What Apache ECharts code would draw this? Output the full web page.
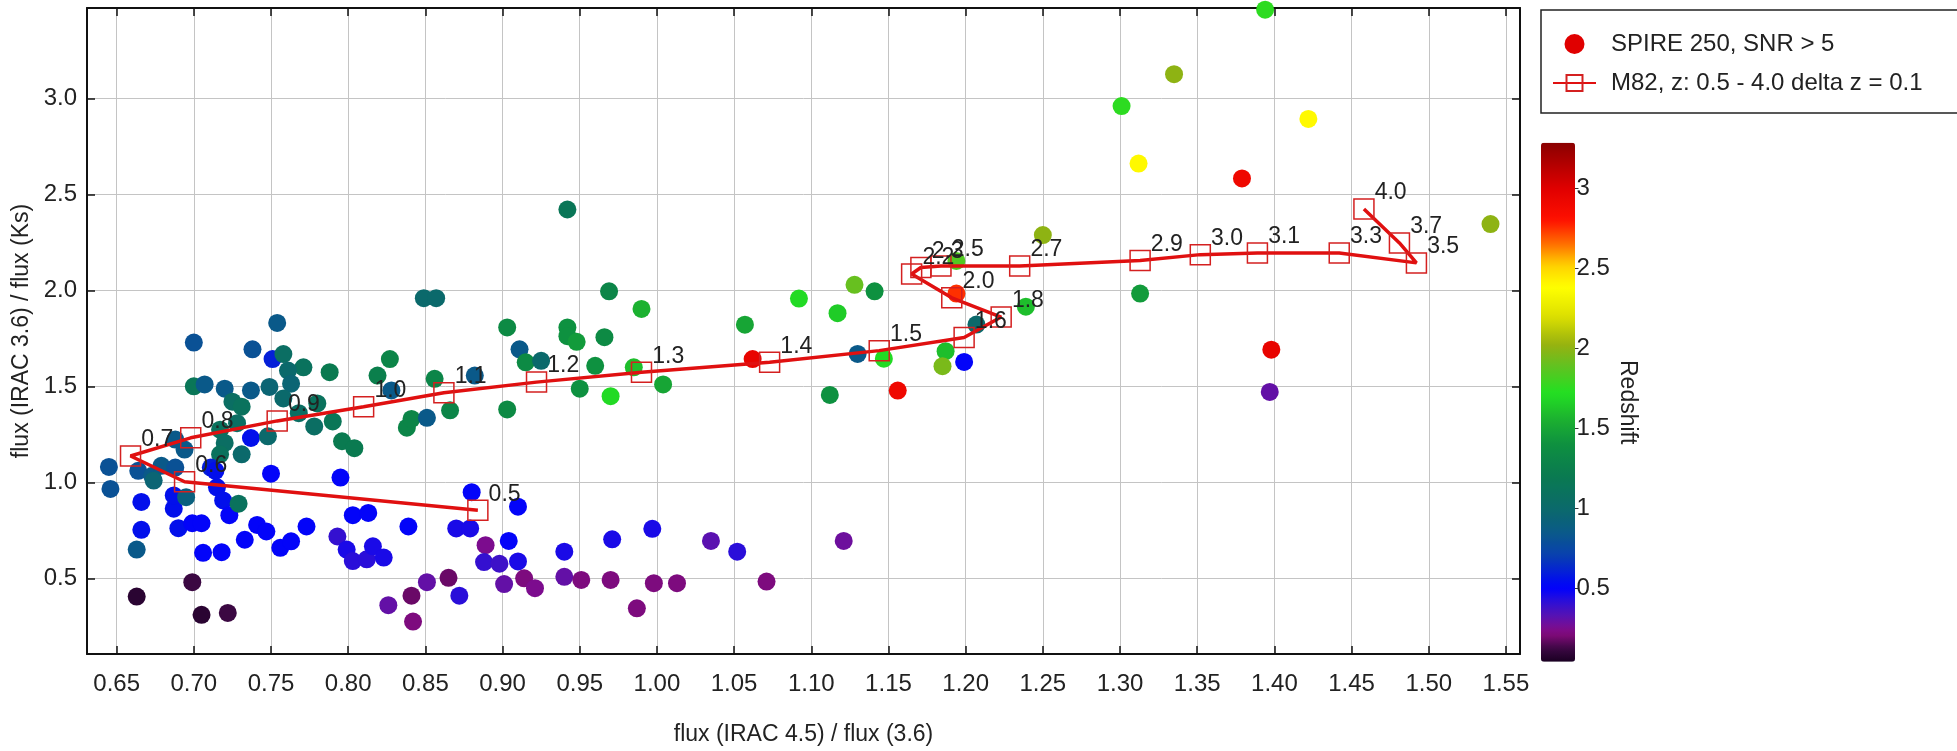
<!DOCTYPE html>
<html><head><meta charset="utf-8">
<script src="https://cdn.jsdelivr.net/npm/echarts@6/dist/echarts.min.js"></script>
<style>html,body{margin:0;padding:0;background:#fff}#c{width:1957px;height:751px}</style>
</head><body><div id="c"></div>
<script>
// ---- SPIRE 250 sources: x = flux(IRAC4.5)/flux(3.6), y = flux(IRAC3.6)/flux(Ks), z = redshift
const srcX = [0.849,0.857,0.754,0.700,0.738,0.751,0.758,0.771,0.761,0.788,0.827,0.819,0.700,0.707,0.720,0.737,0.749,0.763,0.725,0.731,
0.758,0.780,0.790,0.778,0.828,0.838,0.841,0.851,0.856,0.866,0.796,0.804,0.737,0.717,0.720,0.731,0.748,0.717,0.750,0.795,
0.645,0.688,0.694,0.664,0.673,0.679,0.688,0.711,0.768,0.728,0.646,0.674,0.666,0.687,0.687,0.695,0.715,0.719,0.723,0.729,
0.714,0.666,0.663,0.690,0.699,0.705,0.706,0.718,0.733,0.741,0.747,0.756,0.763,0.773,0.803,0.813,0.793,0.799,0.803,0.812,
0.816,0.823,0.839,0.699,0.663,0.705,0.722,0.826,0.841,0.842,0.851,0.865,0.880,0.910,0.870,0.879,0.889,0.904,0.888,0.898,
0.910,0.872,0.901,0.914,0.921,0.940,0.940,0.951,0.971,0.970,0.987,0.997,0.998,1.013,1.035,1.052,1.071,1.121,0.942,0.969,
0.990,0.903,0.942,0.942,0.948,0.966,0.911,0.915,0.925,0.960,0.882,0.950,0.970,1.004,0.985,0.903,1.057,1.092,1.062,1.112,
1.128,1.141,1.117,1.130,1.147,1.156,1.187,1.185,1.199,1.207,1.194,1.239,1.250,1.194,1.313,1.394,1.335,1.422,1.379,1.540,
1.312,1.301,1.398,1.397];
const srcY = [1.959,1.959,1.830,1.728,1.693,1.642,1.668,1.599,1.582,1.574,1.642,1.556,1.500,1.510,1.488,1.479,1.497,1.514,1.420,1.394,
1.437,1.411,1.317,1.291,1.479,1.285,1.330,1.336,1.539,1.375,1.214,1.178,1.231,1.274,1.205,1.146,1.240,1.146,1.045,1.025,
1.080,1.223,1.171,1.060,1.034,1.086,1.077,1.077,1.360,1.308,0.966,1.009,0.898,0.863,0.932,0.923,0.974,0.906,0.829,0.889,
1.060,0.753,0.650,0.761,0.787,0.787,0.633,0.636,0.701,0.778,0.744,0.659,0.693,0.770,0.829,0.841,0.718,0.650,0.590,0.599,
0.667,0.608,0.770,0.480,0.405,0.310,0.320,0.360,0.410,0.275,0.480,0.503,0.949,0.873,0.760,0.760,0.673,0.695,0.585,0.576,
0.588,0.410,0.470,0.500,0.449,0.639,0.508,0.492,0.703,0.492,0.344,0.758,0.475,0.475,0.695,0.639,0.483,0.695,2.421,1.995,
1.903,1.807,1.807,1.761,1.732,1.756,1.693,1.625,1.633,1.607,1.556,1.488,1.449,1.510,1.599,1.380,1.821,1.957,1.642,1.455,
2.029,1.995,1.881,1.669,1.644,1.478,1.683,1.605,1.627,1.822,1.983,1.915,2.288,2.153,1.983,3.462,3.126,2.893,2.583,2.345,
2.660,2.960,1.691,1.471];
const srcZ = [1.0,1.0,0.85,0.8,0.8,0.6,1.05,1.1,1.0,1.2,1.3,1.25,1.15,0.85,0.85,0.85,0.95,0.95,1.05,1.1,
1.0,1.1,1.15,1.05,0.85,1.3,1.3,0.85,1.3,1.3,1.2,1.2,0.55,1.1,1.05,1.0,1.0,1.1,0.5,0.5,
0.8,0.85,0.85,0.8,0.85,0.85,0.8,0.6,1.05,1.05,0.8,0.95,0.55,0.55,0.55,0.9,0.55,0.55,0.5,1.1,
0.55,0.55,0.85,0.55,0.5,0.5,0.5,0.5,0.5,0.5,0.5,0.5,0.5,0.5,0.5,0.5,0.4,0.45,0.42,0.42,
0.45,0.45,0.5,0.12,0.08,0.08,0.12,0.3,0.18,0.22,0.3,0.18,0.5,0.5,0.45,0.45,0.25,0.5,0.4,0.38,
0.45,0.42,0.3,0.22,0.25,0.45,0.3,0.22,0.45,0.22,0.22,0.45,0.22,0.22,0.32,0.42,0.22,0.28,1.15,1.3,
1.55,1.35,1.4,1.4,1.45,1.35,0.85,1.35,1.0,1.4,0.85,1.4,1.7,1.5,1.6,1.35,1.5,1.7,2.95,1.4,
1.9,1.4,1.65,0.85,1.7,2.9,1.6,1.95,0.5,1.0,2.75,1.6,2.0,1.85,1.45,1.75,2.0,2.4,2.9,2.0,
2.4,1.75,2.95,0.3];

// ---- M82 template track
const trackLabels = ['0.5','0.6','0.7','0.8','0.9','1.0','1.1','1.2','1.3','1.4','1.5','1.6','1.8','2.0','2.2','2.3','2.5','2.7','2.9','3.0','3.1','3.3','3.5','3.7','4.0'];
const trackX = [0.884,0.694,0.659,0.698,0.754,0.810,0.862,0.922,0.990,1.073,1.144,1.199,1.223,1.191,1.165,1.171,1.184,1.235,1.313,1.352,1.389,1.442,1.492,1.481,1.458];
const trackY = [0.855,1.003,1.137,1.232,1.320,1.394,1.467,1.522,1.573,1.625,1.686,1.754,1.861,1.961,2.085,2.119,2.127,2.127,2.156,2.186,2.195,2.195,2.143,2.247,2.424];

const seriesNames = ['SPIRE 250, SNR > 5', 'M82, z: 0.5 - 4.0 delta z = 0.1'];
const xTitle = 'flux (IRAC 4.5) / flux (3.6)';
const yTitle = 'flux (IRAC 3.6) / flux (Ks)';
const cbTitle = 'Redshift';

// colour scale (redshift)
const zMin = 0.04, zMax = 3.285;
const stops = [[0.04,'#1a0022'],[0.12,'#3a0842'],[0.22,'#8a0a80'],[0.32,'#5a12b0'],[0.42,'#2a10d8'],[0.5,'#0000ff'],
 [0.7,'#083fb0'],[0.85,'#0a5a88'],[1.0,'#0b6a6a'],[1.2,'#0a7a50'],[1.4,'#0e9040'],[1.55,'#1cb030'],[1.72,'#22e022'],
 [1.9,'#66c020'],[2.02,'#96b010'],[2.2,'#dde000'],[2.38,'#ffff00'],[2.52,'#ffd000'],[2.65,'#ff7000'],[2.8,'#ff1000'],
 [3.0,'#e00000'],[3.285,'#8a0000']];
function hex(c){return [1,3,5].map(i=>parseInt(c.substr(i,2),16));}
function colAt(v){
  for(let i=0;i<stops.length-1;i++){
    const a=stops[i],b=stops[i+1];
    if(v<=b[0]){const t=Math.max(0,(v-a[0])/(b[0]-a[0]));const A=hex(a[1]),B=hex(b[1]);
      return 'rgb('+A.map((x,k)=>Math.round(x+(B[k]-x)*t)).join(',')+')';}
  }
  return stops[stops.length-1][1];
}
const N=80, ramp=[];
for(let i=0;i<N;i++) ramp.push(colAt(zMin+(zMax-zMin)*i/(N-1)));

const FF = '"Liberation Sans", Arial, sans-serif';
const TXT = '#222';
const xMin=0.6308, xMax=1.5591, yMin=0.106, yMax=3.4705;

const frameAxisX = (pos, show) => ({
  type:'value', gridIndex:0, position:pos, min:xMin, max:xMax, splitNumber:18,
  axisLine:{show:true, onZero:false, lineStyle:{color:'#111', width:2}},
  axisTick:{show:true, inside:true, length:8, lineStyle:{color:'#111', width:1.5}},
  axisLabel:{show:show, showMinLabel:false, showMaxLabel:false, margin:18, fontSize:24, color:TXT, fontFamily:FF,
    formatter:v=>v.toFixed(2)},
  splitLine:{show:show, lineStyle:{color:'#c4c4c4', width:1}}
});
const frameAxisY = (pos, show) => ({
  type:'value', gridIndex:0, position:pos, min:yMin, max:yMax, splitNumber:7,
  axisLine:{show:true, onZero:false, lineStyle:{color:'#111', width:2}},
  axisTick:{show:true, inside:true, length:8, lineStyle:{color:'#111', width:1.5}},
  axisLabel:{show:show, showMinLabel:false, showMaxLabel:false, margin:10, fontSize:24, color:TXT, fontFamily:FF,
    formatter:v=>v.toFixed(1)},
  splitLine:{show:show, lineStyle:{color:'#c4c4c4', width:1}}
});

const xb = frameAxisX('bottom', true);
xb.name = xTitle; xb.nameLocation='middle'; xb.nameGap=69;
xb.nameTextStyle={fontSize:23, color:TXT, fontFamily:FF};
const yl = frameAxisY('left', true);
yl.name = yTitle; yl.nameLocation='middle'; yl.nameGap=41;
yl.nameTextStyle={fontSize:23, color:TXT, fontFamily:FF};

const chart = echarts.init(document.getElementById('c'), null, {renderer:'canvas'});
chart.setOption({
  animation:false,
  backgroundColor:'#fff',
  textStyle:{fontFamily:FF},
  grid:[
    {left:87, top:8, width:1433, height:651, containLabel:false},
    {left:1573.5, top:142.7, width:1, height:519, containLabel:false}
  ],
  xAxis:[xb, frameAxisX('top', false), {type:'value', gridIndex:1, show:false}],
  yAxis:[yl, frameAxisY('right', false),
    {type:'value', gridIndex:1, position:'right', min:zMin, max:zMax, splitNumber:6,
     axisLine:{show:false}, splitLine:{show:false},
     axisTick:{show:true, inside:false, length:5, lineStyle:{color:'#333'}},
     axisLabel:{showMinLabel:false, showMaxLabel:false, margin:2, fontSize:24, color:TXT, fontFamily:FF,
       formatter:v=>String(Math.round(v*10)/10)},
     name:cbTitle, nameLocation:'middle', nameRotate:-90, nameGap:41,
     nameTextStyle:{fontSize:23, color:TXT, fontFamily:FF}}
  ],
  visualMap:{
    type:'continuous', min:zMin, max:zMax, dimension:2, seriesIndex:0,
    left:1541, top:142.7, itemWidth:34, itemHeight:519, padding:0,
    calculable:false, hoverLink:false, text:null, orient:'vertical',
    inRange:{color:ramp}
  },
  legend:{
    left:1541, top:10, orient:'vertical', padding:[22,48,18,11], itemGap:15,
    itemWidth:43, itemHeight:20, borderColor:'#222', borderWidth:1.5, backgroundColor:'#fff',
    textStyle:{fontSize:24, color:TXT, fontFamily:FF, padding:[0,0,0,10]},
    data:seriesNames
  },
  series:[
    {
      name:seriesNames[0], type:'scatter', xAxisIndex:0, yAxisIndex:0, z:2,
      symbol:'circle', symbolSize:18,
      itemStyle:{color:'#e00000', opacity:1},
      data:srcX.map((x,i)=>[x, srcY[i], srcZ[i]])
    },
    {
      name:seriesNames[1], type:'line', xAxisIndex:0, yAxisIndex:0, z:3,
      symbol:'rect', symbolSize:20,
      itemStyle:{color:'rgba(255,255,255,0)', borderColor:'#d42020', borderWidth:1.5},
      lineStyle:{color:'#e01010', width:3.5},
      label:{show:true, position:'right', distance:0, offset:[0,-16], fontSize:23, color:TXT, fontFamily:FF,
        formatter:p=>trackLabels[p.dataIndex]},
      data:trackX.map((x,i)=>[x, trackY[i]])
    }
  ]
});
</script></body></html>
